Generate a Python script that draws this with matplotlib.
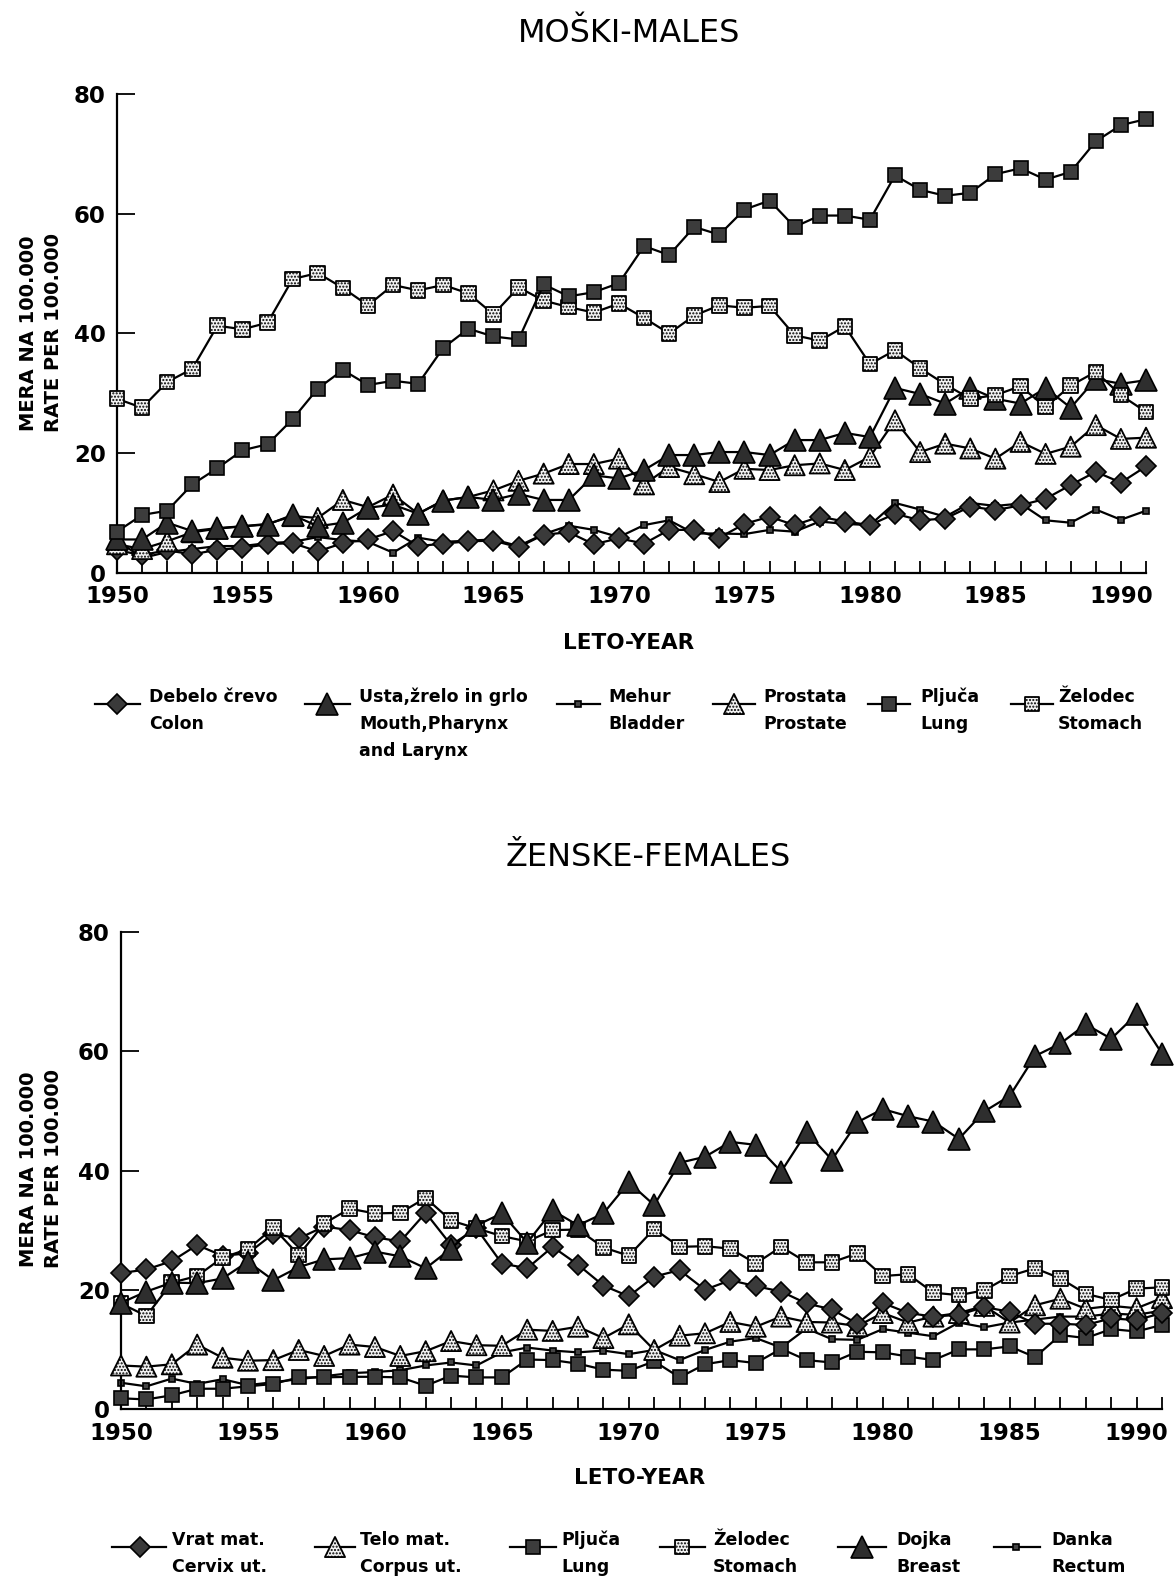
import numpy as np
import matplotlib
matplotlib.use("Agg")
import matplotlib.pyplot as plt

plt.rcParams['font.family'] = ['DejaVu Sans']
plt.rcParams['hatch.linewidth'] = 1.0

W, H = 1174, 1580

years = np.arange(1950, 1992)

# moški - males
m_colon = [3.8, 3.0, 3.8, 3.1, 3.9, 4.2, 4.8, 5.0, 3.6, 5.0,
           5.6, 7.0, 4.5, 4.9, 5.3, 5.4, 4.3, 6.4, 6.8, 4.8,
           5.8, 4.9, 7.2, 7.2, 5.9, 8.2, 9.4, 8.0, 9.4, 8.6,
           8.0, 9.9, 8.8, 9.1, 11.1, 10.5, 11.3, 12.4, 14.7, 16.9,
           15.1, 17.8]
m_mouth = [5.6, 5.6, 8.4, 7.0, 7.5, 7.8, 8.1, 9.7, 7.8, 8.4,
           10.9, 11.4, 9.9, 12.1, 12.7, 12.2, 13.2, 12.2, 12.2, 16.3,
           15.8, 17.2, 19.7, 19.7, 20.2, 20.2, 19.7, 22.2, 22.2, 23.4,
           22.7, 30.9, 29.9, 28.3, 30.9, 29.1, 28.3, 30.9, 27.6, 32.4,
           31.6, 32.2]
m_bladder = [5.5, 2.5, 3.5, 4.0, 4.5, 4.5, 5.0, 5.2, 6.0, 5.5,
             5.2, 3.4, 5.9, 5.2, 5.4, 5.6, 4.5, 6.5, 7.9, 7.2,
             6.0, 8.0, 8.8, 6.6, 6.6, 6.5, 7.2, 6.9, 8.6, 8.2,
             8.0, 11.7, 10.6, 9.4, 11.7, 11.2, 11.6, 8.8, 8.4, 10.6,
             8.9, 10.4]
m_prostate = [4.8, 4.0, 5.3, 6.8, 7.4, 7.8, 8.2, 9.5, 9.2, 12.2,
              11.0, 13.1, 9.9, 12.1, 12.7, 13.8, 15.4, 16.6, 18.2, 18.2,
              19.1, 14.8, 17.7, 16.5, 15.2, 17.4, 17.2, 18.0, 18.3, 17.2,
              19.4, 25.5, 20.2, 21.6, 20.8, 19.1, 21.9, 19.9, 21.1, 24.7,
              22.4, 22.6]
m_lung = [6.9, 9.7, 10.4, 14.8, 17.5, 20.5, 21.5, 25.7, 30.8, 33.9,
          31.4, 32.1, 31.6, 37.6, 40.8, 39.5, 39.0, 48.2, 46.2, 46.9,
          48.4, 54.6, 53.1, 57.8, 56.5, 60.7, 62.2, 57.8, 59.7, 59.7,
          59.0, 66.4, 64.0, 63.0, 63.5, 66.6, 67.6, 65.7, 67.0, 72.1,
          74.8, 75.8]
m_stomach = [29.1, 27.6, 31.9, 34.1, 41.3, 40.7, 41.8, 49.1, 50.1, 47.6,
             44.7, 48.1, 47.2, 48.1, 46.7, 43.2, 47.7, 45.5, 44.4, 43.5,
             45.0, 42.6, 40.0, 43.0, 44.7, 44.3, 44.6, 39.7, 38.8, 41.2,
             34.9, 37.2, 34.2, 31.5, 29.1, 29.7, 31.2, 27.7, 31.3, 33.6,
             29.7, 26.9]

# ženske - females
f_cervix = [22.8, 23.4, 24.8, 27.5, 25.7, 26.1, 29.4, 28.6, 30.6, 30.0,
            28.8, 28.1, 32.9, 27.5, 30.3, 24.4, 23.6, 27.2, 24.2, 20.7,
            18.9, 22.2, 23.3, 20.0, 21.6, 20.6, 19.7, 17.7, 16.7, 14.3,
            17.8, 16.1, 15.5, 15.8, 17.1, 16.3, 14.3, 14.3, 14.1, 15.2,
            14.9, 16.1]
f_corpus = [7.3, 7.1, 7.5, 10.8, 8.6, 8.1, 8.2, 9.9, 8.9, 10.8,
            10.4, 8.9, 9.7, 11.4, 10.7, 10.6, 13.3, 13.1, 13.8, 11.9,
            14.2, 9.9, 12.3, 12.7, 14.6, 13.8, 15.5, 14.6, 14.5, 13.9,
            16.1, 14.5, 15.5, 16.1, 17.3, 14.5, 17.4, 18.5, 16.8, 17.3,
            16.9, 18.6]
f_lung = [1.8, 1.6, 2.3, 3.4, 3.4, 3.8, 4.2, 5.3, 5.3, 5.4,
          5.4, 5.3, 3.9, 5.6, 5.3, 5.3, 8.3, 8.2, 7.6, 6.6,
          6.4, 8.0, 5.3, 7.5, 8.2, 7.7, 10.1, 8.2, 7.8, 9.6,
          9.5, 8.8, 8.2, 10.0, 10.0, 10.5, 8.7, 12.4, 11.9, 13.4,
          13.0, 14.1]
f_stomach = [17.7, 15.6, 21.2, 22.3, 25.4, 26.8, 30.4, 25.8, 31.1, 33.6,
             32.8, 32.9, 35.4, 31.6, 30.3, 29.0, 28.1, 30.0, 30.1, 27.1,
             25.7, 30.2, 27.2, 27.3, 26.9, 24.4, 27.2, 24.6, 24.6, 26.1,
             22.3, 22.6, 19.5, 19.1, 19.9, 22.3, 23.6, 21.9, 19.3, 18.3,
             20.2, 20.4]
f_breast = [17.8, 19.7, 21.2, 21.1, 21.9, 24.7, 21.6, 23.8, 25.1, 25.3,
            26.4, 25.6, 23.6, 26.9, 30.8, 32.8, 27.9, 33.3, 30.8, 32.8,
            38.0, 34.2, 41.3, 42.3, 44.8, 44.3, 39.8, 46.4, 41.8, 48.1,
            50.3, 49.1, 48.2, 45.3, 49.9, 52.5, 59.2, 61.3, 64.5, 62.1,
            66.2, 59.6]
f_rectum = [4.4, 3.8, 5.1, 4.2, 5.0, 4.0, 4.5, 5.0, 5.5, 6.0,
            6.2, 6.5, 7.3, 7.8, 7.3, 9.5, 10.3, 9.8, 9.5, 9.8,
            9.2, 9.9, 8.2, 9.9, 11.3, 11.9, 10.3, 13.5, 11.7, 11.6,
            13.4, 12.8, 12.2, 14.5, 13.7, 14.5, 15.0, 15.5, 15.5, 16.0,
            15.8, 16.5]

# slogi oznak
STYLES = {
    'diamond':   dict(marker='D', ms=10.5, fc='#3a3a3a', hatch=None),
    'tri_dark':  dict(marker='^', ms=16, fc='#2e2e2e', hatch=None),
    'small_sq':  dict(marker='s', ms=5, fc='#444444', hatch=None),
    'tri_light': dict(marker='^', ms=14.5, fc='#f2f2f2', hatch='.....'),
    'sq_dark':   dict(marker='s', ms=10.5, fc='#3c3c3c', hatch=None),
    'sq_light':  dict(marker='s', ms=10.5, fc='#f2f2f2', hatch='.....'),
}


def draw_markers(ax, x, y, style, z):
    st = STYLES[style]
    if st['hatch'] is None:
        ax.plot(x, y, linestyle='none', marker=st['marker'], ms=st['ms'],
                mfc=st['fc'], mec='black', mew=1.2, zorder=z, clip_on=False)
    else:
        ax.scatter(x, y, marker=st['marker'], s=st['ms'] ** 2,
                   facecolors=st['fc'], edgecolors='black', hatch=st['hatch'],
                   linewidths=1.3, zorder=z, clip_on=False)


def draw_series(ax, x, y, style, z):
    ax.plot(x, y, color='black', lw=1.6, zorder=z, clip_on=False)
    draw_markers(ax, x, y, style, z + 0.5)


def setup_axes(ax):
    ax.set_xlim(1950, 1991)
    ax.set_ylim(0, 80)
    for s in ['top', 'right']:
        ax.spines[s].set_visible(False)
    for s in ['left', 'bottom']:
        ax.spines[s].set_linewidth(1.6)
    ax.set_xticks(years)
    ax.set_xticklabels([str(y) if y % 5 == 0 else '' for y in years])
    ax.set_yticks([0, 20, 40, 60, 80])
    ax.tick_params(axis='x', direction='in', length=9, width=1.3, pad=9,
                   labelsize=16.5)
    ax.tick_params(axis='y', direction='in', length=13, width=1.3, pad=8,
                   labelsize=16.5)
    for lab in ax.get_xticklabels() + ax.get_yticklabels():
        lab.set_fontweight('bold')


def px_axes(fig, left, right, ybot, ytop):
    return fig.add_axes([left / W, 1 - ybot / H, (right - left) / W,
                         (ybot - ytop) / H])


fig = plt.figure(figsize=(W / 100, H / 100), dpi=100)

# zgornji graf
ax1 = px_axes(fig, 117, 1146, 573, 94)
setup_axes(ax1)
draw_series(ax1, years, m_bladder, 'small_sq', 2)
draw_series(ax1, years, m_colon, 'diamond', 3)
draw_series(ax1, years, m_prostate, 'tri_light', 4)
draw_series(ax1, years, m_mouth, 'tri_dark', 5)
draw_series(ax1, years, m_stomach, 'sq_light', 6)
draw_series(ax1, years, m_lung, 'sq_dark', 7)

# spodnji graf
ax2 = px_axes(fig, 121, 1162, 1409, 932)
setup_axes(ax2)
draw_series(ax2, years, f_rectum, 'small_sq', 2)
draw_series(ax2, years, f_lung, 'sq_dark', 3)
draw_series(ax2, years, f_corpus, 'tri_light', 4)
draw_series(ax2, years, f_cervix, 'diamond', 5)
draw_series(ax2, years, f_stomach, 'sq_light', 6)
draw_series(ax2, years, f_breast, 'tri_dark', 7)

# napisi in legende v pikslih
ov = fig.add_axes([0, 0, 1, 1])
ov.set_xlim(0, W)
ov.set_ylim(H, 0)
ov.axis('off')

ov.text(629, 34, 'MOŠKI-MALES', ha='center', va='center', fontsize=23)
ov.text(648, 857, 'ŽENSKE-FEMALES', ha='center', va='center', fontsize=23)
ov.text(629, 643, 'LETO-YEAR', ha='center', va='center', fontsize=15.5,
        fontweight='bold')
ov.text(640, 1478, 'LETO-YEAR', ha='center', va='center', fontsize=15.5,
        fontweight='bold')
for yc in [333, 1169]:
    ov.text(41, yc, 'MERA NA 100.000\nRATE PER 100.000', rotation=90,
            ha='center', va='center', fontsize=14, fontweight='bold',
            linespacing=1.45)

top_legend = [
    ('diamond', 95, 140, 117, 149, ['Debelo črevo', 'Colon']),
    ('tri_dark', 305, 350, 327, 359, ['Usta,žrelo in grlo', 'Mouth,Pharynx',
                                      'and Larynx']),
    ('small_sq', 557, 600, 578, 608, ['Mehur', 'Bladder']),
    ('tri_light', 713, 755, 734, 763, ['Prostata', 'Prostate']),
    ('sq_dark', 868, 910, 889, 920, ['Pljuča', 'Lung']),
    ('sq_light', 1011, 1053, 1032, 1058, ['Želodec', 'Stomach']),
]
bottom_legend = [
    ('diamond', 112, 166, 140, 172, ['Vrat mat.', 'Cervix ut.']),
    ('tri_light', 315, 355, 335, 360, ['Telo mat.', 'Corpus ut.']),
    ('sq_dark', 510, 556, 533, 561, ['Pljuča', 'Lung']),
    ('sq_light', 660, 705, 682, 713, ['Želodec', 'Stomach']),
    ('tri_dark', 838, 886, 862, 896, ['Dojka', 'Breast']),
    ('small_sq', 994, 1040, 1016, 1051, ['Danka', 'Rectum']),
]


def draw_legend(entries, y_handle, y_text):
    for style, xa, xb, xm, xt, lines in entries:
        ov.plot([xa, xb], [y_handle, y_handle], color='black', lw=1.6)
        draw_markers(ov, [xm], [y_handle], style, 3)
        for i, line in enumerate(lines):
            ov.text(xt, y_text + i * 27, line, ha='left', va='center',
                    fontsize=12.5, fontweight='bold')


draw_legend(top_legend, 704, 697)
draw_legend(bottom_legend, 1547, 1540)

fig.savefig('out.png', dpi=100)
